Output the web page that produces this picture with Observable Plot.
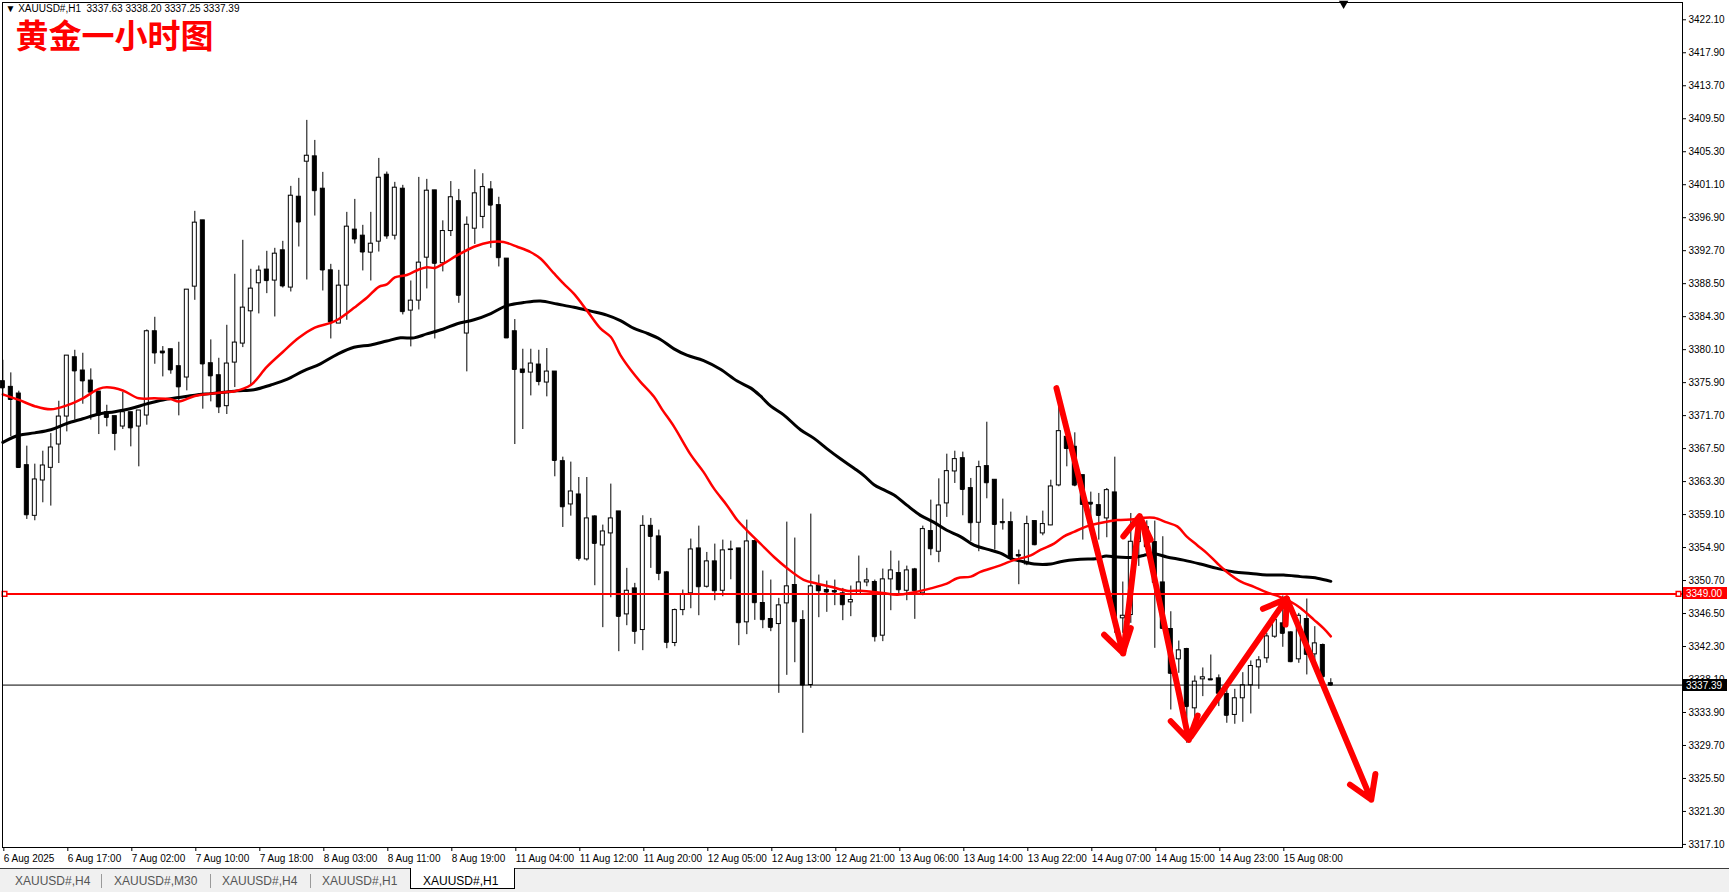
<!DOCTYPE html>
<html><head><meta charset="utf-8">
<script src="https://cdn.jsdelivr.net/npm/d3@7"></script>
<script src="https://cdn.jsdelivr.net/npm/@observablehq/plot@0.6"></script>
<style>
html,body{margin:0;padding:0;background:#fff;overflow:hidden;width:1729px;height:892px;}
#chart svg{display:block;}
#tabs{position:relative;height:23px;background:#f0f0f0;border-top:1px solid #3c3c3c;font-family:"Liberation Sans",Arial,sans-serif;font-size:12px;color:#555;}
#tabs .t{position:absolute;top:5px;white-space:nowrap;}
#tabs .sep{position:absolute;top:5px;width:1px;height:14px;background:#9a9a9a;}
#tabs .act{position:absolute;top:-1px;height:20px;background:#fff;border:1px solid #000;border-top:none;}
</style></head>
<body>
<div id="chart"></div>
<div id="tabs"></div>
<script>
// ---------- data ----------
const open = [3376.08,3375.36,3374.51,3365.39,3358.94,3363.44,3365.05,3368.02,3371.58,3379.13,
 3377.44,3376.16,3374.76,3372.13,3371.63,3370.31,3372.13,3370.31,3371.71,3382.44,
 3379.85,3380.15,3377.99,3376.55,3388.12,3396.56,3378.37,3376.84,3372.90,3378.45,
 3380.87,3384.98,3388.55,3390.29,3388.89,3392.75,3388.00,3399.57,3404.03,3404.71,
 3400.59,3390.20,3383.42,3388.25,3395.38,3394.61,3392.45,3393.85,3402.37,3394.61,
 3400.59,3385.07,3386.34,3391.81,3400.38,3391.10,3395.20,3399.00,3382.15,3395.50,
 3397.00,3400.50,3398.50,3391.69,3382.44,3377.57,3377.18,3378.20,3375.91,3377.31,
 3365.90,3360.39,3361.66,3353.39,3358.86,3355.17,3356.70,3359.50,3346.39,3349.70,
 3344.40,3357.67,3356.32,3351.74,3342.75,3346.94,3349.07,3354.79,3349.91,3353.14,
 3349.40,3354.58,3354.79,3345.38,3355.72,3347.84,3345.80,3345.16,3347.79,3350.13,
 3345.67,3337.40,3350.00,3349.49,3349.36,3349.07,3347.92,3348.98,3350.46,3350.51,
 3343.68,3350.85,3351.65,3349.40,3352.12,3349.07,3357.00,3354.37,3360.52,3364.59,
 3366.28,3362.47,3358.06,3365.27,3363.53,3358.14,3358.14,3353.94,3352.76,3358.27,
 3356.70,3357.72,3362.81,3369.00,3367.73,3364.12,3360.60,3360.30,3358.61,3361.92,
 3345.89,3346.31,3355.60,3357.50,3355.60,3350.46,3344.53,3340.67,3341.98,3334.43,
 3338.12,3338.12,3338.25,3336.26,3333.59,3335.71,3337.36,3339.65,3340.80,3343.55,
 3345.25,3344.10,3340.67,3345.80,3341.30,3342.49,3337.63];
const high = [3378.75,3377.14,3374.81,3367.81,3365.52,3367.17,3369.42,3373.53,3379.34,3380.02,
 3379.64,3377.65,3374.76,3373.02,3371.63,3374.64,3372.13,3372.35,3382.61,3384.22,
 3380.49,3380.15,3381.04,3387.74,3397.71,3396.56,3381.34,3379.00,3383.20,3389.69,
 3394.02,3390.33,3390.75,3392.62,3393.00,3393.89,3400.89,3401.91,3409.29,3406.74,
 3402.67,3390.96,3390.20,3397.58,3399.23,3395.93,3397.58,3404.45,3402.71,3401.40,
 3401.02,3388.84,3402.03,3401.78,3400.38,3396.50,3401.50,3400.50,3397.00,3403.00,
 3402.50,3401.50,3399.50,3391.69,3383.93,3380.15,3380.15,3380.02,3380.24,3377.31,
 3366.41,3365.78,3363.82,3363.82,3358.95,3357.76,3362.98,3359.50,3352.25,3350.34,
 3358.95,3358.61,3357.12,3351.86,3347.07,3349.49,3355.98,3357.63,3354.28,3355.34,
 3355.85,3355.72,3354.79,3358.40,3355.85,3351.91,3350.76,3348.43,3358.14,3356.11,
 3346.86,3359.16,3351.40,3350.63,3350.76,3349.70,3350.00,3353.82,3352.25,3350.76,
 3352.16,3354.45,3353.18,3352.54,3352.25,3357.63,3360.94,3363.65,3366.79,3367.17,
 3367.05,3363.70,3365.90,3370.86,3363.53,3361.07,3359.41,3354.58,3358.90,3358.27,
 3359.54,3363.48,3372.80,3370.90,3369.51,3364.12,3361.96,3361.79,3362.42,3366.41,
 3350.51,3359.24,3359.00,3358.30,3358.27,3356.28,3346.73,3343.00,3342.07,3338.55,
 3339.57,3341.22,3338.68,3337.19,3336.85,3338.97,3340.46,3341.01,3343.98,3346.52,
 3348.73,3344.19,3346.52,3348.35,3344.83,3342.62,3338.20];
const low = [3374.08,3369.00,3364.97,3358.48,3358.31,3360.60,3360.18,3365.60,3369.63,3371.12,
 3373.15,3371.12,3369.29,3370.27,3367.22,3369.93,3367.72,3365.18,3370.48,3378.24,
 3376.63,3376.97,3371.67,3374.85,3386.38,3372.52,3373.45,3371.96,3371.84,3375.27,
 3380.36,3375.57,3384.65,3387.23,3384.26,3387.95,3387.44,3393.17,3388.97,3397.11,
 3387.57,3381.46,3383.42,3383.84,3393.55,3390.12,3388.84,3392.53,3394.15,3394.06,
 3384.52,3380.45,3385.15,3387.83,3381.46,3390.00,3394.50,3386.00,3377.27,3393.50,
 3395.50,3393.00,3390.63,3381.59,3368.02,3369.93,3374.21,3375.49,3374.09,3363.91,
 3357.46,3358.90,3353.18,3353.18,3350.04,3344.70,3348.51,3341.64,3344.95,3342.58,
 3341.77,3352.25,3350.68,3342.02,3342.28,3346.22,3347.11,3346.22,3349.74,3348.13,
 3348.64,3350.80,3342.41,3343.81,3345.63,3344.57,3344.19,3336.34,3338.63,3340.24,
 3331.25,3336.98,3345.97,3346.65,3347.50,3345.59,3346.10,3348.94,3349.91,3342.87,
 3342.92,3346.86,3348.90,3348.13,3345.76,3348.77,3353.86,3352.97,3358.74,3363.06,
 3358.95,3355.68,3354.37,3361.11,3354.58,3357.12,3353.31,3350.17,3352.59,3355.13,
 3356.40,3357.68,3362.64,3365.18,3362.64,3355.85,3356.70,3355.85,3356.15,3343.98,
 3343.98,3345.25,3352.50,3353.80,3342.07,3344.61,3334.22,3338.89,3329.98,3332.95,
 3335.92,3338.04,3334.65,3332.53,3332.40,3332.65,3333.71,3336.85,3340.16,3343.34,
 3342.20,3340.24,3340.16,3338.68,3340.37,3338.04,3337.25];
const close = [3375.23,3373.75,3365.09,3359.07,3363.57,3365.35,3367.64,3371.58,3379.34,3377.39,
 3376.12,3374.68,3371.75,3371.46,3369.42,3372.13,3370.14,3372.35,3382.44,3379.68,
 3379.68,3377.52,3375.36,3387.74,3396.27,3378.28,3376.76,3372.81,3378.33,3381.00,
 3385.45,3387.87,3390.16,3388.89,3392.32,3388.21,3399.70,3396.35,3404.79,3400.34,
 3390.24,3383.63,3388.25,3395.76,3394.19,3392.53,3393.59,3401.99,3394.57,3400.72,
 3384.94,3386.34,3391.18,3400.34,3391.09,3395.20,3399.50,3387.02,3396.00,3400.00,
 3400.80,3398.50,3391.81,3381.59,3377.57,3377.18,3378.33,3376.04,3377.31,3365.99,
 3360.09,3362.04,3353.52,3358.61,3355.43,3356.95,3358.61,3346.14,3349.40,3344.23,
 3357.67,3356.32,3351.61,3342.83,3346.94,3348.98,3354.66,3349.91,3353.14,3349.40,
 3354.54,3354.66,3345.33,3355.68,3347.88,3345.72,3344.74,3347.54,3349.96,3345.46,
 3337.40,3349.96,3349.40,3349.24,3349.24,3347.62,3348.22,3350.46,3350.72,3343.55,
 3350.85,3351.99,3349.53,3351.99,3349.40,3357.25,3354.75,3360.26,3364.63,3366.16,
 3362.30,3358.06,3365.14,3363.15,3357.84,3358.06,3353.56,3353.82,3357.89,3355.26,
 3357.89,3362.68,3369.72,3367.51,3362.85,3360.39,3360.43,3358.99,3362.21,3346.10,
 3346.22,3355.64,3357.50,3355.00,3350.46,3344.61,3338.89,3341.81,3334.65,3337.83,
 3338.38,3338.04,3336.34,3333.54,3335.71,3337.36,3339.82,3340.54,3343.59,3345.67,
 3343.98,3340.37,3346.22,3341.30,3342.70,3338.46,3337.39];

// moving averages: [bar index, value]
const redMA = [[0,3374.4],[2,3373.7],[4,3372.9],[6,3372.5],[8,3373.0],[10,3373.9],[12,3375.1],[13,3375.3],
 [15,3374.9],[17,3373.9],[19,3373.9],[21,3373.8],[22,3373.5],[24,3374.2],[26,3374.5],[28,3374.7],[29,3374.8],
 [31,3375.6],[33,3377.9],[35,3379.8],[37,3381.6],[39,3382.9],[41,3383.5],[42,3384.0],[44,3385.5],[45.5,3386.7],
 [47,3388.1],[48,3388.4],[49,3389.3],[50.5,3389.6],[52,3390.3],[53,3390.6],[54,3390.5],[55,3391.0],[56.8,3392.1],
 [58.9,3393.2],[61,3393.8],[62.6,3393.8],[64.3,3393.2],[66,3392.5],[67.2,3391.7],[68.9,3389.8],[70.1,3388.5],
 [71.4,3387.2],[73,3385.1],[74.7,3382.8],[76,3381.7],[77.2,3379.4],[78.5,3377.5],[79.7,3376.0],[81.4,3374.1],
 [82.4,3372.5],[83.9,3370.3],[86,3366.7],[87.6,3364.5],[88.9,3362.4],[90.5,3360.3],[91.8,3358.4],[93,3357.1],
 [94.7,3355.4],[96.4,3353.7],[98,3352.3],[100.1,3350.8],[101.8,3350.3],[103.5,3349.9],[105.5,3349.4],[107.2,3349.4],
 [110,3349.1],[111.8,3348.9],[113.9,3349.2],[116,3349.7],[118,3350.3],[119.3,3351.0],[121,3351.2],[122.2,3351.8],
 [124.3,3352.5],[126.4,3353.3],[128.5,3353.9],[129.7,3354.6],[131.4,3355.4],[132.6,3356.3],[133.9,3356.9],
 [135.5,3357.6],[137.5,3358.1],[139.3,3358.4],[141.4,3358.5],[142.6,3358.7],[143.9,3358.7],[145.5,3358.1],
 [146.8,3357.6],[148,3356.3],[149.3,3355.2],[150.5,3354.2],[151.8,3352.9],[153,3351.8],[154.7,3350.6],
 [156.4,3349.9],[158,3349.2],[159.7,3348.6],[161,3348.0],[162.2,3347.2],[163.9,3345.7],[165.1,3344.6],[166,3343.6]];
const blackMA = [[0,3368.3],[2,3369.2],[4,3369.5],[6,3369.9],[8,3370.7],[10,3371.3],[12,3371.9],[14,3372.2],
 [16,3372.6],[18,3373.2],[20,3373.7],[22,3374.0],[24,3374.3],[26,3374.5],[28,3374.7],[29.3,3374.85],[31.4,3375.0],
 [33.5,3375.6],[35.5,3376.3],[37.6,3377.4],[39.7,3378.3],[41.8,3379.5],[43.9,3380.4],[46,3380.7],[48,3381.2],
 [49.7,3381.6],[51.4,3381.6],[53,3382.1],[55,3382.7],[56.8,3383.4],[58.9,3383.9],[61,3384.7],[63,3385.7],
 [65.1,3386.1],[67.2,3386.3],[69.3,3385.9],[71.4,3385.5],[73.5,3385.0],[75.5,3384.5],[77.2,3383.8],[78.9,3382.8],
 [80.5,3382.2],[82.2,3381.4],[83.9,3380.2],[85.5,3379.4],[87.6,3378.7],[89.7,3377.6],[91.8,3376.1],[93.5,3375.2],
 [94.7,3374.2],[96,3372.9],[97.6,3371.8],[99.7,3369.9],[101.4,3368.8],[103,3367.5],[104.7,3366.2],[106.4,3365.0],
 [107.6,3364.1],[108.9,3362.9],[110,3362.3],[111.4,3361.6],[113,3360.3],[114.7,3359.0],[116.4,3358.1],[118,3357.1],
 [119.7,3356.3],[121.4,3355.2],[123,3354.7],[124.7,3354.2],[126,3353.5],[127.6,3353.1],[128.9,3352.8],[131,3352.8],
 [132.2,3353.1],[134.7,3353.4],[136.8,3353.5],[137.7,3353.8],[139.3,3353.7],[141.4,3353.65],[142.6,3353.9],
 [143.9,3354.1],[145.5,3353.7],[147.6,3353.3],[149.7,3352.8],[151.8,3352.25],[153.9,3351.8],[156,3351.6],
 [158,3351.4],[160.1,3351.4],[162.2,3351.2],[164.3,3351.0],[166,3350.6]];

// hand-drawn arrows: start bar, start price, end bar, end price
const arrowX1 = [131.7, 140.05, 142.6, 148.5, 160.5];
const arrowY1 = [3375.2, 3341.4, 3357.5, 3330.8, 3348.4];
const arrowX2 = [140.0, 142.1, 148.25, 160.5, 171.05];
const arrowY2 = [3341.5, 3358.9, 3330.4, 3348.4, 3322.8];

const levelLine = 3349.00;
const bidLine = 3337.39;

const yTicks = [3317.10,3321.30,3325.50,3329.70,3333.90,3338.10,3342.30,3346.50,3350.70,3354.90,3359.10,
 3363.30,3367.50,3371.70,3375.90,3380.10,3384.30,3388.50,3392.70,3396.90,3401.10,3405.30,3409.50,3413.70,3417.90,3422.10];
const xTickIdx = [0,8,16,24,32,40,48,56,64,72,80,88,96,104,112,120,128,136,144,152,160];
const xLabels = ["6 Aug 2025","6 Aug 17:00","7 Aug 02:00","7 Aug 10:00","7 Aug 18:00","8 Aug 03:00","8 Aug 11:00",
 "8 Aug 19:00","11 Aug 04:00","11 Aug 12:00","11 Aug 20:00","12 Aug 05:00","12 Aug 13:00","12 Aug 21:00",
 "13 Aug 06:00","13 Aug 14:00","13 Aug 22:00","14 Aug 07:00","14 Aug 15:00","14 Aug 23:00","15 Aug 08:00"];
const symbolName = "XAUUSD#,H1";
const titleText = "黄金一小时图";
const tabNames = ["XAUUSD#,H4","XAUUSD#,M30","XAUUSD#,H4","XAUUSD#,H1","XAUUSD#,H1"];

// ---------- build ----------
const candles = open.map((o, i) => ({i, o, h: high[i], l: low[i], c: close[i]}));
const arrows = arrowX1.map((x1, k) => ({x1, y1: arrowY1[k], x2: arrowX2[k], y2: arrowY2[k]}));
const last = candles[candles.length - 1];
const header = `\u25BC ${symbolName}\u00a0\u00a0${last.o.toFixed(2)} ${last.h.toFixed(2)} ${last.l.toFixed(2)} ${last.c.toFixed(2)}`;
const HW = 0.25;

const plot = Plot.plot({
  width: 1729, height: 868,
  marginLeft: 2, marginRight: 47, marginTop: 2, marginBottom: 21,
  x: {domain: [-0.04, 209.96]},
  y: {domain: [3316.71, 3424.30]},
  style: {background: "#fff", color: "#000", fontFamily: "'Liberation Sans', Arial, sans-serif", fontSize: "10px", overflow: "visible"},
  marks: [
    Plot.axisY(yTicks, {anchor: "right", tickSize: 3, tickPadding: 3, tickFormat: d => d.toFixed(2), label: null, fontSize: 10}),
    Plot.axisX(xTickIdx, {anchor: "bottom", tickSize: 4, tickPadding: 3, tickFormat: d => xLabels[xTickIdx.indexOf(d)], textAnchor: "start", dx: 1, label: null, fontSize: 10}),
    Plot.ruleX(candles, {x: "i", y1: "l", y2: "h", stroke: "#000", strokeWidth: 1}),
    Plot.ruleY(candles, {x1: d => d.i - HW, x2: d => d.i + HW, y: "c", stroke: "#000", strokeWidth: 1}),
    Plot.rect(candles, {x1: d => d.i - HW, x2: d => d.i + HW, y1: "o", y2: "c",
      fill: d => d.c > d.o ? "#fff" : "#000", stroke: "#000", strokeWidth: 1}),
    Plot.line(blackMA, {x: d => d[0], y: d => d[1], stroke: "#000", strokeWidth: 3, curve: "catmull-rom"}),
    Plot.line(redMA, {x: d => d[0], y: d => d[1], stroke: "#ff0000", strokeWidth: 2.5, curve: "catmull-rom"}),
    Plot.ruleY([bidLine], {stroke: "#000", strokeWidth: 1}),
    Plot.ruleY([levelLine], {stroke: "#ff0000", strokeWidth: 2}),
    Plot.dot([levelLine], {y: d => d, frameAnchor: "left", dx: 2, symbol: "square", r: 2.6, stroke: "#ff0000", fill: "#fff", strokeWidth: 1.5}),
    Plot.dot([levelLine], {y: d => d, frameAnchor: "right", dx: -4, symbol: "square", r: 2.6, stroke: "#ff0000", fill: "#fff", strokeWidth: 1.5}),
    Plot.arrow(arrows, {x1: "x1", y1: "y1", x2: "x2", y2: "y2", stroke: "#ff0000", strokeWidth: 6,
      headLength: 6.5, headAngle: 64, strokeLinecap: "round", strokeLinejoin: "round"}),
    Plot.dot([167.6], {x: d => d, frameAnchor: "top", dy: 1, symbol: "triangle", rotate: 180, r: 3.5, fill: "#000", stroke: "none"}),
    Plot.text([header], {frameAnchor: "top-left", dx: 3, dy: 2, textAnchor: "start", lineAnchor: "top", fontSize: 10, fill: "#000"}),
    Plot.text([titleText], {frameAnchor: "top-left", dx: 13, dy: 22, textAnchor: "start", lineAnchor: "top",
      fontSize: 33, fontWeight: 700, fill: "#ff0000", fontFamily: "'Noto Sans CJK SC', sans-serif"}),
    Plot.frame({stroke: "#000", strokeWidth: 1})
  ]
});
document.getElementById("chart").appendChild(plot);

// price tags on the right axis, positioned through the plot's y scale
const ys = plot.scale("y");
const svg = d3.select(plot);
[[levelLine, "#ff0000"], [bidLine, "#000"]].forEach(([v, col]) => {
  const yy = Math.round(ys.apply(v));
  const g = svg.append("g");
  g.append("rect").attr("x", 1683).attr("y", yy - 6).attr("width", 44).attr("height", 12).attr("fill", col);
  g.append("text").attr("x", 1686).attr("y", yy).attr("dy", "0.35em").attr("fill", "#fff")
    .attr("text-anchor", "start").attr("font-size", 10)
    .attr("font-family", "'Liberation Sans', Arial, sans-serif").text(v.toFixed(2));
});

// tab bar
const tabs = document.getElementById("tabs");
const tabLeft = [15, 114, 222, 322, 423];
const sepLeft = [101, 210, 310];
tabNames.forEach((n, k) => {
  if (k === tabNames.length - 1) {
    const a = document.createElement("div"); a.className = "act";
    a.style.left = "410px"; a.style.width = "103px"; tabs.appendChild(a);
  }
  const s = document.createElement("div"); s.className = "t"; s.textContent = n;
  s.style.left = tabLeft[k] + "px";
  if (k === tabNames.length - 1) s.style.color = "#000";
  tabs.appendChild(s);
});
sepLeft.forEach(x => { const s = document.createElement("div"); s.className = "sep"; s.style.left = x + "px"; tabs.appendChild(s); });
</script>
</body></html>
